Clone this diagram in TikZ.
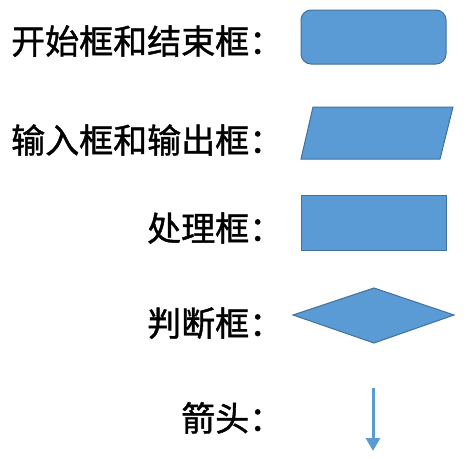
\documentclass[tikz,border=0pt]{standalone}
\usepackage{fontspec}
\newfontfamily\cjk[BoldFont={Noto Sans CJK SC},BoldFeatures={FakeBold=1.2}]{Noto Sans CJK SC}
\usetikzlibrary{arrows.meta}
\definecolor{boxfill}{HTML}{5B9BD5}
\definecolor{boxline}{HTML}{41719C}
\begin{document}
\begin{tikzpicture}[x=1pt,y=-1pt,
  shapebox/.style={fill=boxfill,draw=boxline,line width=1pt},
  label/.style={anchor=base west,inner sep=0pt,font=\cjk\bfseries\fontsize{34}{34}\selectfont}]
\useasboundingbox (0,0) rectangle (476,458);
% labels
\node[label] (l1) at (11,54) {开始框和结束框：};
\node[label] (l2) at (11,153) {输入框和输出框：};
\node[label] (l3) at (147,241) {处理框：};
\node[label] (l4) at (147,336) {判断框：};
\node[label] (l5) at (181,431) {箭头：};
% shapes
\draw[shapebox,rounded corners=10pt] (301,10) rectangle (446,64);
\draw[shapebox] (313,107) -- (453,107) -- (440,159) -- (301,159) -- cycle;
\draw[shapebox] (301,195) rectangle (446,250);
\draw[shapebox] (293,315) -- (374,288) -- (454,315) -- (374,343) -- cycle;
\coordinate (a1) at (373,388);
\coordinate (a2) at (373,451);
\draw[boxfill,line width=3pt,-{Triangle[width=14pt,length=13pt]}] (a1) -- (a2);
\end{tikzpicture}
\end{document}
